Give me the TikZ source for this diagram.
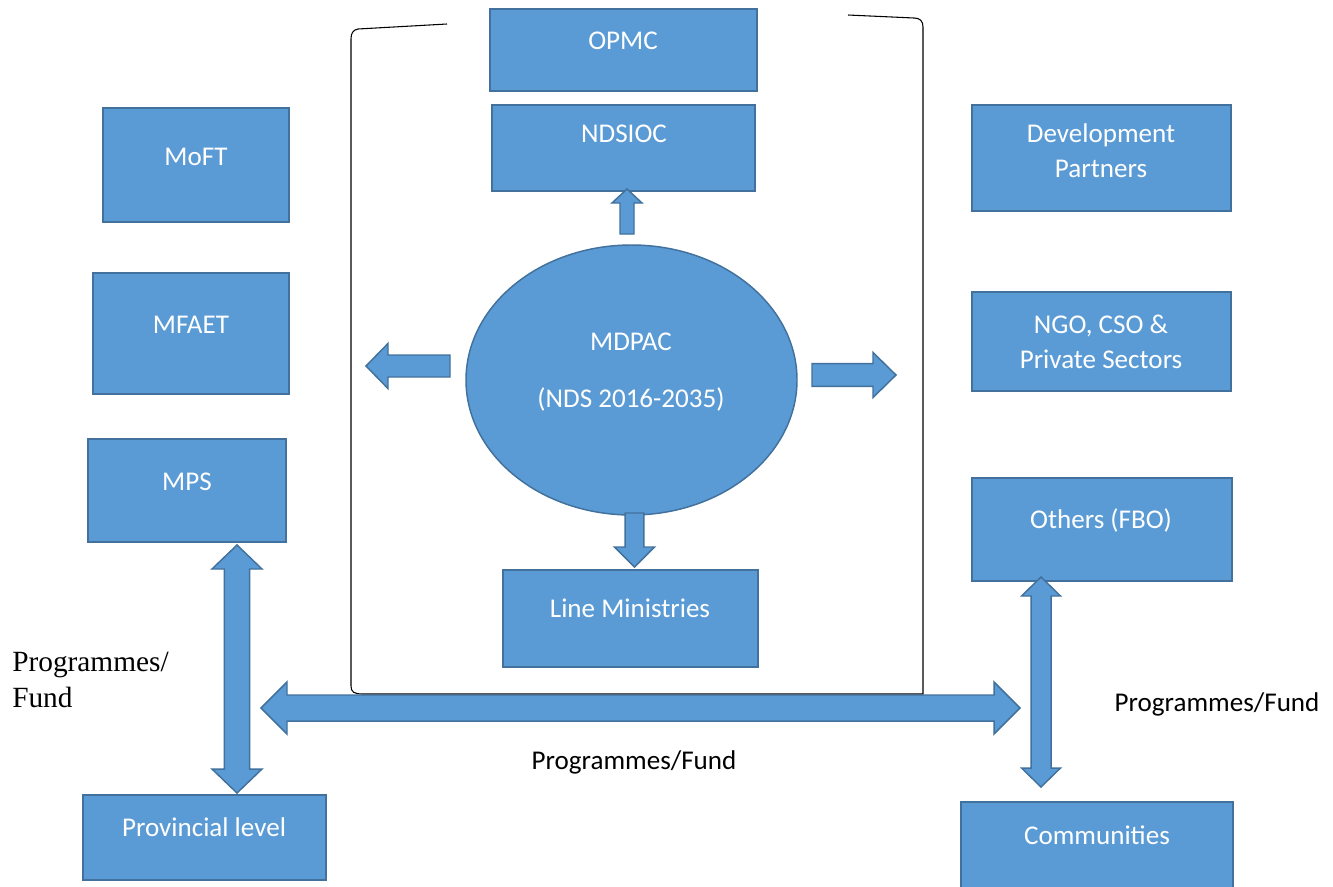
\documentclass[tikz,border=0pt]{standalone}
\usepackage{fontspec}
\usetikzlibrary{calc,shapes.geometric}
\newfontfamily\calfont{Carlito}
\newfontfamily\tmsfont{Liberation Serif}
\definecolor{blu}{HTML}{5B9BD5}
\definecolor{bdr}{HTML}{41719C}
\tikzset{
  box/.style={draw=bdr, fill=blu, line width=1.1pt, rectangle, inner sep=0pt},
  ell/.style={draw=bdr, fill=blu, line width=1.1pt, ellipse, inner sep=0pt},
  arr/.style={draw=bdr, fill=blu, line width=1.1pt, line join=miter},
  wtxt/.style={text=white, font=\calfont\fontsize{20.3}{26.3}\selectfont, inner sep=0pt, anchor=base, align=center},
  btxt/.style={text=black, font=\calfont\fontsize{20.3}{26.3}\selectfont, inner sep=0pt, anchor=base},
  stxt/.style={text=black, font=\tmsfont\fontsize{22}{26.3}\selectfont, inner sep=0pt, anchor=base west, align=left},
  brk/.style={draw=black, line width=0.8pt}
}
% box from corners (px)
\newcommand\boxat[5]{\node[box, minimum width={(#4-#2)*0.75pt}, minimum height={(#5-#3)*0.75pt}] (#1) at ({(#2+#4)/2},{(#3+#5)/2}) {};}
% single block arrow: tail, tip, shaft half, head half, head length
\newcommand\fatarrow[5]{%
  \coordinate (fa-c) at ($(#2)!#5!(#1)$);
  \draw[arr] ($(#1)!#3!90:(#2)$) -- ($(fa-c)!#3!-90:(#1)$) -- ($(fa-c)!#4!-90:(#1)$) -- (#2)
    -- ($(fa-c)!#4!90:(#1)$) -- ($(fa-c)!#3!90:(#1)$) -- ($(#1)!#3!-90:(#2)$) -- cycle;}
% double block arrow: end A, end B, shaft half, head half, head length
\newcommand\fatdarrow[5]{%
  \coordinate (fa-a) at ($(#1)!#5!(#2)$);
  \coordinate (fa-b) at ($(#2)!#5!(#1)$);
  \draw[arr] (#1) -- ($(fa-a)!#4!90:(#2)$) -- ($(fa-a)!#3!90:(#2)$) -- ($(fa-b)!#3!-90:(#1)$)
    -- ($(fa-b)!#4!-90:(#1)$) -- (#2) -- ($(fa-b)!#4!90:(#1)$) -- ($(fa-b)!#3!90:(#1)$)
    -- ($(fa-a)!#3!-90:(#2)$) -- ($(fa-a)!#4!-90:(#2)$) -- cycle;}
\begin{document}
\begin{tikzpicture}[x=0.75pt, y=-0.75pt]
\useasboundingbox (0,0) rectangle (1333,886);
\fill[white] (0,0) rectangle (1333,886);

% bracket
\draw[brk] (447,24) -- (358,29) .. controls (353,30) and (351,33) .. (351,39)
  -- (351,686) .. controls (351,692) and (354,694) .. (363,694)
  -- (923,694) -- (923,27) .. controls (923,21) and (920,18) .. (914,18) -- (848,15);

% boxes
\boxat{opmc}{490}{9}{757}{91}
\boxat{ndsioc}{492}{105}{755}{191}
\boxat{linemin}{503}{570}{758}{667}
\boxat{moft}{103}{108}{289}{222}
\boxat{mfaet}{93}{273}{289}{394}
\boxat{mps}{88}{439}{286}{542}
\boxat{prov}{83}{795}{326}{880}
\boxat{devp}{972}{105}{1231}{211}
\boxat{ngo}{972}{292}{1231}{391}
\boxat{others}{972}{478}{1232}{581}
\boxat{comm}{961}{802}{1233}{900}
\node[ell, minimum width={331*0.75pt}, minimum height={270*0.75pt}] (mdpac) at (631.5,380) {};

% box texts
\node[wtxt] (opmc-t) at (623,49) {OPMC};
\node[wtxt] (ndsioc-t) at (624,142) {NDSIOC};
\node[wtxt] (linemin-t) at (630,617) {Line Ministries};
\node[wtxt] (moft-t) at (196,165) {MoFT};
\node[wtxt] (mfaet-t) at (191,333) {MFAET};
\node[wtxt] (mps-t) at (187,490) {MPS};
\node[wtxt] (prov-t) at (204,836) {Provincial level};
\node[wtxt, anchor=north] (devp-t) at (1101,123) {Development\\Partners};
\node[wtxt, anchor=north] (ngo-t) at (1101,315) {NGO, CSO \&\\Private Sectors};
\node[wtxt] (others-t) at (1101,528) {Others (FBO)};
\node[wtxt] (comm-t) at (1097,844) {Communities};
\node[wtxt] (mdpac-t1) at (631,350) {MDPAC};
\node[wtxt] (mdpac-t2) at (631,407) {(NDS 2016-2035)};

% arrow end points
\coordinate (up1) at (627,234);   \coordinate (up2) at (627,189);
\coordinate (dn1) at (634.5,513); \coordinate (dn2) at (634.5,567);
\coordinate (lf1) at (450,366);   \coordinate (lf2) at (366,366);
\coordinate (rt1) at (812,375);   \coordinate (rt2) at (896,375);
\coordinate (lv1) at (237,545);   \coordinate (lv2) at (237,793);
\coordinate (hz1) at (261,708);   \coordinate (hz2) at (1020,708);
\coordinate (rv1) at (1041,577);  \coordinate (rv2) at (1041,787);

\fatarrow{up1}{up2}{5.25pt}{11.25pt}{10.5pt}
\fatarrow{dn1}{dn2}{7.1pt}{15pt}{15pt}
\fatarrow{lf1}{lf2}{8.25pt}{16.9pt}{16.5pt}
\fatarrow{rt1}{rt2}{8.6pt}{16.9pt}{17.25pt}
\fatdarrow{lv1}{lv2}{9.4pt}{18.75pt}{18pt}
\fatdarrow{hz1}{hz2}{9.75pt}{19.5pt}{19.5pt}
\fatdarrow{rv1}{rv2}{7.5pt}{14.6pt}{14.25pt}

% labels
\node[stxt, anchor=base west] (lbl-left) at (12,707) {Programmes/\\Fund};
\node[btxt] (lbl-mid) at (634,769) {Programmes/Fund};
\node[btxt] (lbl-right) at (1217,711) {Programmes/Fund};
\end{tikzpicture}
\end{document}
